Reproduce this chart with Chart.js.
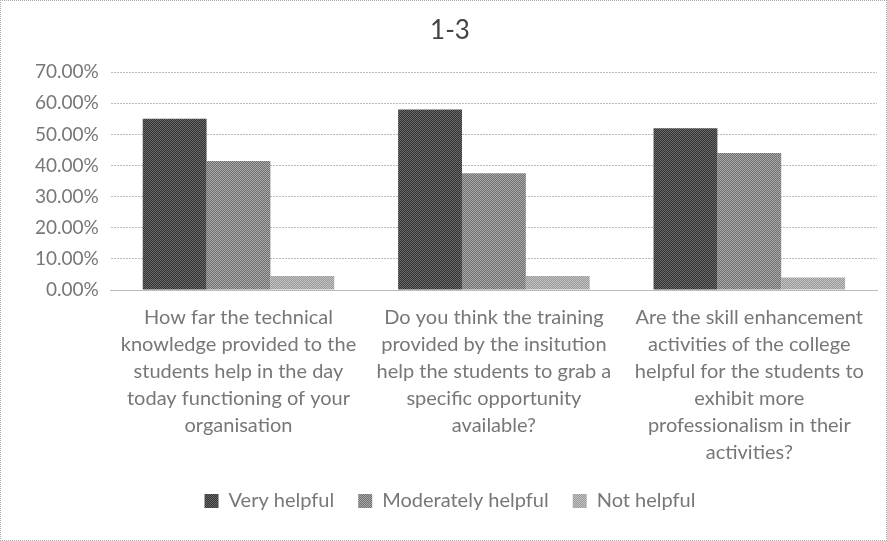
<!DOCTYPE html>
<html>
<head>
<meta charset="utf-8">
<script src="https://cdn.jsdelivr.net/npm/chart.js@4/dist/chart.umd.min.js"></script>
<style>
  html, body { margin: 0; padding: 0; background: #fff; }
  #wrap { position: relative; width: 885px; height: 539px; border: 1px dotted #aaa; }
</style>
</head>
<body>
<div id="wrap"><canvas id="mycanvas"></canvas></div>
<script>
// questions (x axis), wrapped as in the original
var questions = [
  ['How far the technical', 'knowledge provided to the', 'students help in the day', 'today functioning of your', 'organisation'],
  ['Do you think the training', 'provided by the insitution', 'help the students to grab a', 'specific opportunity', 'available?'],
  ['Are the skill enhancement', 'activities of the college', 'helpful for the students to', 'exhibit more', 'professionalism in their', 'activities?']
];
var seriesNames = ['Very helpful', 'Moderately helpful', 'Not helpful'];
var veryHelpful = [55, 58, 52];
var moderatelyHelpful = [41.5, 37.5, 44];
var notHelpful = [4.5, 4.5, 4];
var yTicks = [0, 10, 20, 30, 40, 50, 60, 70];

var fontFam = 'Lato, "Open Sans", sans-serif';

// the scan looks like a halftone screen, so fill the bars with a small checker
function dither(c1, c2) {
  var p = document.createElement('canvas');
  p.width = 2; p.height = 2;
  var g = p.getContext('2d');
  g.fillStyle = c1; g.fillRect(0, 0, 2, 2);
  g.fillStyle = c2; g.fillRect(0, 0, 1, 1); g.fillRect(1, 1, 1, 1);
  return g.createPattern(p, 'repeat');
}
var fills = [dither('#333333', '#6a6a6a'), dither('#707070', '#a8a8a8'), dither('#989898', '#c4c4c4')];

var chartdata = {
  labels: questions,
  datasets: [
    { label: seriesNames[0], backgroundColor: fills[0], data: veryHelpful },
    { label: seriesNames[1], backgroundColor: fills[1], data: moderatelyHelpful },
    { label: seriesNames[2], backgroundColor: fills[2], data: notHelpful }
  ]
};

var ctx = document.getElementById('mycanvas');
var barGraph = new Chart(ctx, {
  type: 'bar',
  data: chartdata,
  options: {
    responsive: true,
    maintainAspectRatio: false,
    animation: false,
    layout: { padding: { left: 22, right: 9, top: 4, bottom: 19 } },
    datasets: { bar: { categoryPercentage: 0.75, barPercentage: 1.0 } },
    plugins: {
      title: {
        display: true,
        text: '1-3',
        color: '#444',
        font: { family: fontFam, size: 26, weight: 'normal' },
        padding: { top: 10, bottom: 26 }
      },
      legend: {
        position: 'bottom',
        labels: {
          color: '#777',
          font: { family: fontFam, size: 20 },
          boxWidth: 14,
          boxHeight: 14,
          padding: 24
        }
      },
      tooltip: { enabled: false }
    },
    scales: {
      x: {
        grid: { display: false, drawTicks: false },
        border: { display: true, color: '#bbb', dash: [2, 1] },
        ticks: {
          color: '#777',
          font: { family: fontFam, size: 20, lineHeight: 1.35 },
          maxRotation: 0,
          autoSkip: false,
          padding: 14
        },
        // pull the legend a bit closer to the labels
        afterFit: function(axis) { axis.height -= 13; }
      },
      y: {
        min: 0,
        max: 70,
        afterBuildTicks: function(axis) {
          axis.ticks = yTicks.map(function(v) { return { value: v }; });
        },
        grid: { color: '#bbb', drawTicks: false },
        border: { display: false, dash: [2, 1] },
        ticks: {
          color: '#777',
          font: { family: fontFam, size: 19 },
          padding: 12,
          callback: function(v) { return Number(v).toFixed(2) + '%'; }
        }
      }
    }
  }
});
</script>
</body>
</html>
